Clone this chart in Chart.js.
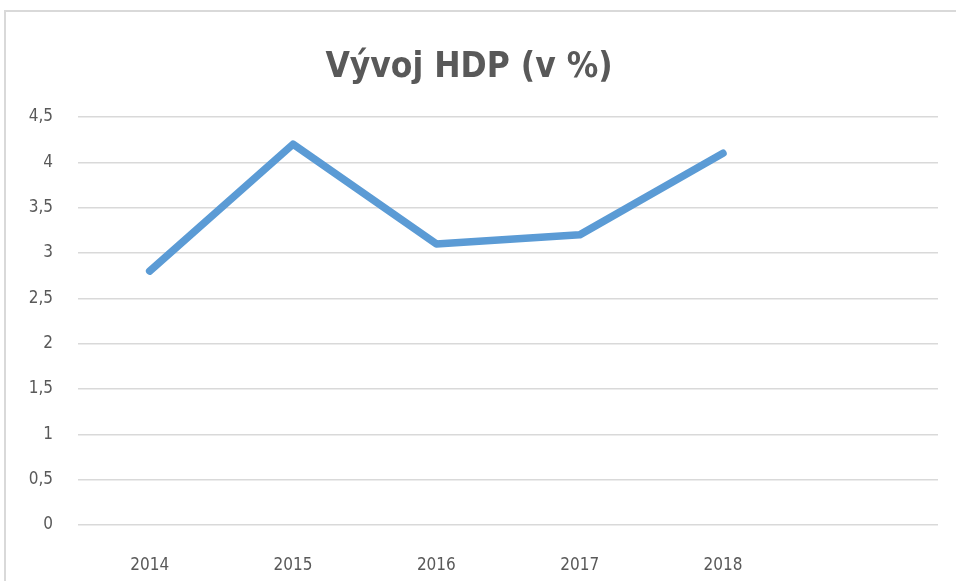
<!DOCTYPE html>
<html>
<head>
<meta charset="utf-8">
<script src="https://cdn.jsdelivr.net/npm/chart.js@4/dist/chart.umd.min.js"></script>
<style>
  html, body { margin: 0; padding: 0; background: #fff; }
  #wrap { position: relative; width: 956px; height: 581px; overflow: hidden; }
  #frame { position: absolute; left: 4px; top: 10px; width: 1000px; height: 700px;
           border: 2px solid #d9d9d9; box-sizing: border-box; pointer-events: none; }
  canvas { position: absolute; left: 0; top: 0; }
</style>
</head>
<body>
<div id="wrap">
  <canvas id="chart" width="956" height="581"></canvas>
  <div id="frame"></div>
</div>
<script>
const years = ["2014", "2015", "2016", "2017", "2018", ""];
const gdpGrowth = [2.8, 4.2, 3.1, 3.2, 4.1];
const yTicks = [0, 0.5, 1, 1.5, 2, 2.5, 3, 3.5, 4, 4.5];

const fontFamily = "'Liberation Sans Narrow', 'DejaVu Sans Condensed', 'Liberation Sans', sans-serif";
const textColor = "#595959";

new Chart(document.getElementById("chart"), {
  type: "line",
  data: {
    labels: years,
    datasets: [
      {
        label: "HDP",
        data: gdpGrowth,
        borderColor: "#5b9bd5",
        borderWidth: 7.5,
        borderCapStyle: "round",
        borderJoinStyle: "round",
        pointRadius: 0,
        tension: 0,
        fill: false
      }
    ]
  },
  options: {
    responsive: false,
    animation: false,
    layout: {
      padding: { left: 0, right: 18, top: 0, bottom: 0 }
    },
    plugins: {
      legend: { display: false },
      tooltip: { enabled: false },
      title: {
        display: true,
        text: "Vývoj HDP (v %)",
        color: textColor,
        font: { family: fontFamily, size: 35, weight: "bold", lineHeight: 1.2 },
        padding: { top: 47, bottom: 28 }
      }
    },
    scales: {
      x: {
        offset: true,
        grid: { display: false },
        border: { display: false },
        ticks: {
          color: textColor,
          font: { family: fontFamily, size: 17 },
          padding: 22,
          maxRotation: 0
        },
        afterFit: (scale) => { scale.height = 56; }
      },
      y: {
        min: 0,
        max: 4.5,
        afterBuildTicks: (scale) => { scale.ticks = yTicks.map((v) => ({ value: v })); },
        grid: { color: "#d9d9d9", lineWidth: 1.5, drawTicks: false },
        border: { display: false },
        ticks: {
          color: textColor,
          font: { family: fontFamily, size: 17 },
          padding: 25,
          callback: (value) => String(value).replace(".", ",")
        },
        afterFit: (scale) => { scale.width = 78; }
      }
    }
  }
});
</script>
</body>
</html>
